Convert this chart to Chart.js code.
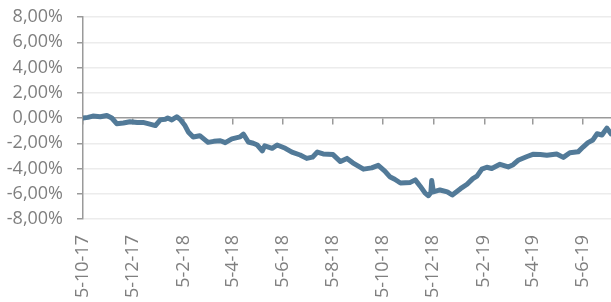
<!DOCTYPE html>
<html>
<head>
<meta charset="utf-8">
<script src="https://cdn.jsdelivr.net/npm/chart.js@4/dist/chart.umd.min.js"></script>
<style>
html,body{margin:0;padding:0;background:#fff;}
#c{display:block;}
</style>
</head>
<body>
<canvas id="c" width="611" height="302"></canvas>
<script>
const startDate = '2017-10-05';
const endDate = '2019-07-09';

const dates = [
'2017-10-05','2017-10-11','2017-10-17','2017-10-26','2017-11-03','2017-11-09','2017-11-15','2017-11-23',
'2017-12-01','2017-12-10','2017-12-17','2017-12-23','2018-01-01','2018-01-07','2018-01-13','2018-01-16',
'2018-01-21','2018-01-27','2018-01-31','2018-02-06','2018-02-10','2018-02-16','2018-02-24','2018-03-06',
'2018-03-13','2018-03-21','2018-03-27','2018-04-04','2018-04-14','2018-04-18','2018-04-24','2018-04-30',
'2018-05-05','2018-05-11','2018-05-14','2018-05-23','2018-05-29','2018-06-08','2018-06-16','2018-06-26',
'2018-07-04','2018-07-11','2018-07-17','2018-07-24','2018-08-05','2018-08-14','2018-08-22','2018-08-29',
'2018-09-11','2018-09-21','2018-09-29','2018-10-07','2018-10-13','2018-10-19','2018-10-26','2018-11-07',
'2018-11-13','2018-11-19','2018-11-25','2018-11-29','2018-12-02','2018-12-03','2018-12-05','2018-12-13',
'2018-12-22','2018-12-28','2019-01-07','2019-01-15','2019-01-22','2019-01-27','2019-02-02','2019-02-08',
'2019-02-14','2019-02-24','2019-03-06','2019-03-12','2019-03-18','2019-03-29','2019-04-05','2019-04-14',
'2019-04-22','2019-05-04','2019-05-12','2019-05-20','2019-05-30','2019-06-05','2019-06-11','2019-06-17',
'2019-06-22','2019-06-28','2019-07-04','2019-07-09'
];

const values = [
0.00, 0.05, 0.15, 0.10, 0.20, 0.00, -0.45, -0.40,
-0.30, -0.35, -0.35, -0.45, -0.60, -0.15, -0.10, 0.00,
-0.15, 0.10, -0.10, -0.60, -1.10, -1.50, -1.40, -1.93,
-1.85, -1.80, -1.95, -1.65, -1.50, -1.27, -1.90, -2.00,
-2.14, -2.60, -2.20, -2.40, -2.14, -2.40, -2.70, -2.93,
-3.20, -3.10, -2.70, -2.85, -2.90, -3.45, -3.20, -3.55,
-4.05, -3.95, -3.75, -4.20, -4.65, -4.85, -5.15, -5.10,
-4.90, -5.40, -5.95, -6.15, -5.90, -4.95, -5.85, -5.70,
-5.85, -6.10, -5.60, -5.25, -4.80, -4.60, -4.05, -3.90,
-4.00, -3.67, -3.88, -3.70, -3.35, -3.05, -2.88, -2.90,
-2.95, -2.85, -3.12, -2.75, -2.68, -2.30, -1.95, -1.74,
-1.25, -1.35, -0.80, -1.25
];

const tickDates = ['2017-10-05','2017-12-05','2018-02-05','2018-04-05','2018-06-05','2018-08-05',
'2018-10-05','2018-12-05','2019-02-05','2019-04-05','2019-06-05'];
const tickLabels = ['5-10-17','5-12-17','5-2-18','5-4-18','5-6-18','5-8-18',
'5-10-18','5-12-18','5-2-19','5-4-19','5-6-19'];

const yTicks = [-8, -6, -4, -2, 0, 2, 4, 6, 8];

const DAY = 86400000;
const dayOf = d => Math.round((Date.parse(d) - Date.parse(startDate)) / DAY);
const points = dates.map((d, i) => ({x: dayOf(d), y: values[i]}));
const tickDays = tickDates.map(dayOf);
const maxDay = dayOf(endDate);

const FONT = {family: '"Open Sans", sans-serif', size: 18};
const TXT = '#7f7f7f';
const AXIS = '#9a9a9a';
const GRID = '#ececec';

const setTicks = s => { s.ticks = tickDays.map(v => ({value: v})); };
const noPadX = s => { s.paddingLeft = 0; s.paddingRight = 0; };

new Chart(document.getElementById('c'), {
  type: 'line',
  data: {
    datasets: [{
      data: points,
      borderColor: '#527a98',
      borderWidth: 5,
      pointRadius: 0,
      tension: 0,
      borderJoinStyle: 'round',
      borderCapStyle: 'round',
      xAxisID: 'x',
      yAxisID: 'y'
    }]
  },
  options: {
    responsive: false,
    animation: false,
    devicePixelRatio: 1,
    layout: {padding: {top: 17, right: 0, left: 0, bottom: 0}},
    plugins: {legend: {display: false}, tooltip: {enabled: false}},
    scales: {
      x: {
        type: 'linear',
        position: 'bottom',
        min: 0, max: maxDay,
        afterBuildTicks: setTicks,
        afterFit: s => { s.height = 83; noPadX(s); },
        grid: {display: false, drawTicks: false},
        border: {display: false},
        ticks: {
          autoSkip: false,
          minRotation: 90, maxRotation: 90,
          padding: 16,
          color: TXT, font: FONT,
          callback: (v, i) => tickLabels[i]
        }
      },
      x0: {
        type: 'linear',
        position: {y: 0},
        min: 0, max: maxDay,
        afterBuildTicks: setTicks,
        afterFit: noPadX,
        grid: {drawOnChartArea: false, drawTicks: true, tickLength: 6, color: AXIS, tickColor: AXIS, lineWidth: 1.5},
        border: {display: true, color: AXIS, width: 1.5},
        ticks: {display: false}
      },
      y: {
        type: 'linear',
        position: 'left',
        min: -8, max: 8,
        afterBuildTicks: s => { s.ticks = yTicks.map(v => ({value: v})); },
        afterFit: s => { s.width = 83; s.paddingTop = 0; s.paddingBottom = 0; },
        grid: {
          color: c => (c.tick && c.tick.value === 0) ? 'rgba(0,0,0,0)' : GRID,
          lineWidth: 1.5,
          drawTicks: true, tickLength: 6, tickColor: AXIS
        },
        border: {display: true, color: AXIS, width: 1.5},
        ticks: {
          autoSkip: false,
          padding: 14,
          color: TXT, font: FONT,
          callback: v => v.toFixed(2).replace('.', ',') + '%'
        }
      }
    }
  }
});
</script>
</body>
</html>
